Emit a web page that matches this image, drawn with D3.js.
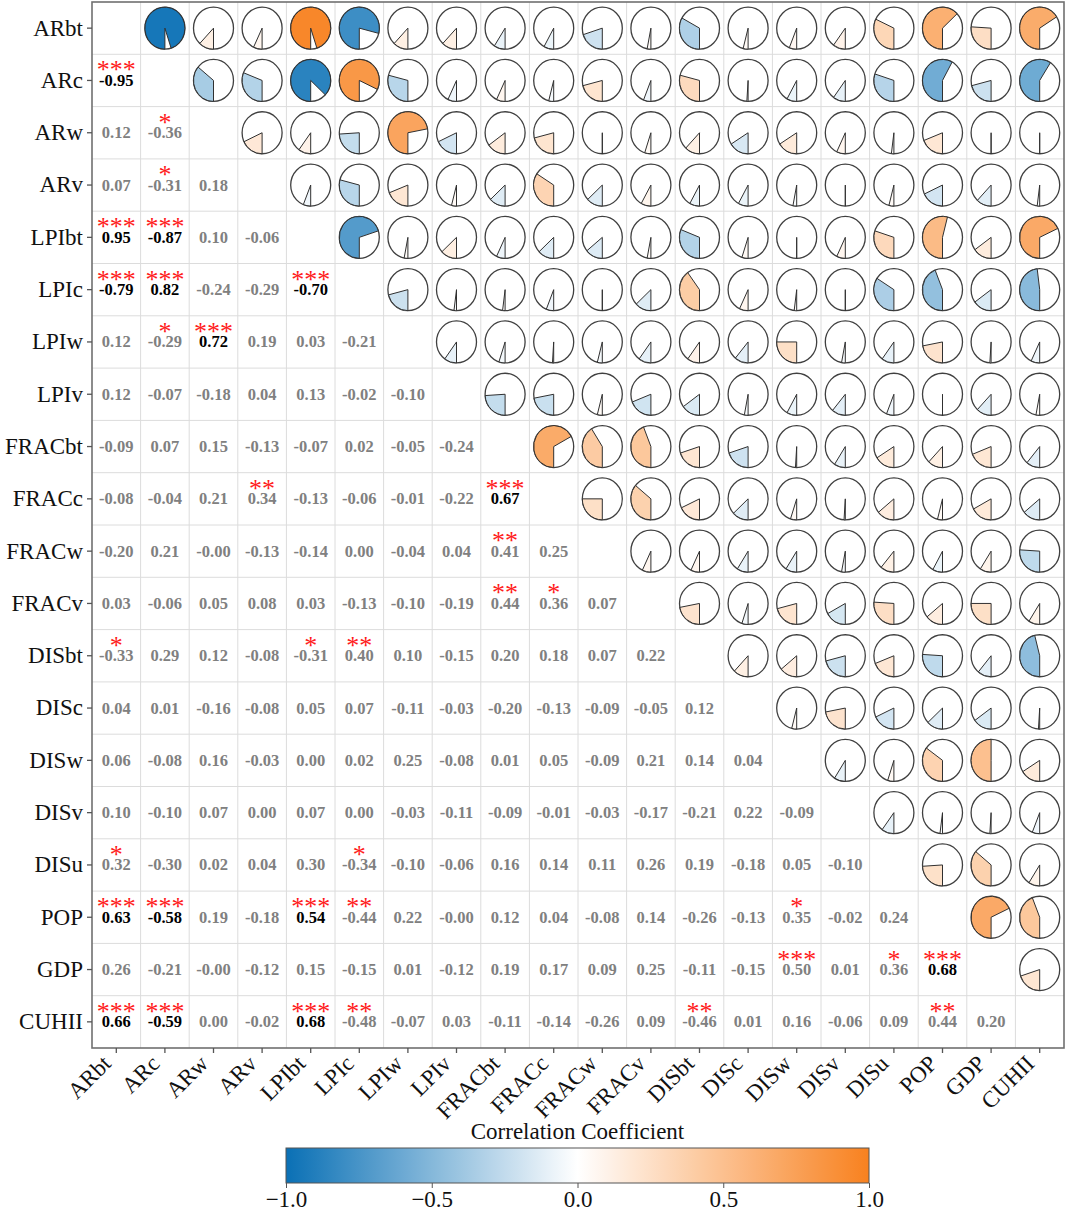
<!DOCTYPE html>
<html>
<head>
<meta charset="utf-8">
<script src="https://cdn.jsdelivr.net/npm/d3@7"></script>
<style>
  html, body { margin: 0; padding: 0; background: #fff; }
  svg { display: block; }
  svg text { font-family: "Liberation Serif", "Times New Roman", Tinos, "Nimbus Roman", serif; }
</style>
</head>
<body>
<div id="chartContainer"></div>
<script>
const labels = ["ARbt", "ARc", "ARw", "ARv", "LPIbt", "LPIc", "LPIw", "LPIv", "FRACbt", "FRACc",
    "FRACw", "FRACv", "DISbt", "DISc", "DISw", "DISv", "DISu", "POP", "GDP", "CUHII"];

// lower triangle, row i holds r(i, 0..i-1)
const corrRows = [
    [],
    [-0.95],
    [0.12, -0.36],
    [0.07, -0.31, 0.18],
    [0.95, -0.87, 0.10, -0.06],
    [-0.79, 0.82, -0.24, -0.29, -0.70],
    [0.12, -0.29, 0.72, 0.19, 0.03, -0.21],
    [0.12, -0.07, -0.18, 0.04, 0.13, -0.02, -0.10],
    [-0.09, 0.07, 0.15, -0.13, -0.07, 0.02, -0.05, -0.24],
    [-0.08, -0.04, 0.21, 0.34, -0.13, -0.06, -0.01, -0.22, 0.67],
    [-0.20, 0.21, -0, -0.13, -0.14, 0.00, -0.04, 0.04, 0.41, 0.25],
    [0.03, -0.06, 0.05, 0.08, 0.03, -0.13, -0.10, -0.19, 0.44, 0.36, 0.07],
    [-0.33, 0.29, 0.12, -0.08, -0.31, 0.40, 0.10, -0.15, 0.20, 0.18, 0.07, 0.22],
    [0.04, 0.01, -0.16, -0.08, 0.05, 0.07, -0.11, -0.03, -0.20, -0.13, -0.09, -0.05, 0.12],
    [0.06, -0.08, 0.16, -0.03, 0.00, 0.02, 0.25, -0.08, 0.01, 0.05, -0.09, 0.21, 0.14, 0.04],
    [0.10, -0.10, 0.07, 0.00, 0.07, 0.00, -0.03, -0.11, -0.09, -0.01, -0.03, -0.17, -0.21, 0.22, -0.09],
    [0.32, -0.30, 0.02, 0.04, 0.30, -0.34, -0.10, -0.06, 0.16, 0.14, 0.11, 0.26, 0.19, -0.18, 0.05, -0.10],
    [0.63, -0.58, 0.19, -0.18, 0.54, -0.44, 0.22, -0, 0.12, 0.04, -0.08, 0.14, -0.26, -0.13, 0.35, -0.02, 0.24],
    [0.26, -0.21, -0, -0.12, 0.15, -0.15, 0.01, -0.12, 0.19, 0.17, 0.09, 0.25, -0.11, -0.15, 0.50, 0.01, 0.36, 0.68],
    [0.66, -0.59, 0.00, -0.02, 0.68, -0.48, -0.07, 0.03, -0.11, -0.14, -0.26, 0.09, -0.46, 0.01, 0.16, -0.06, 0.09, 0.44, 0.20]
];

// number of significance stars, same layout as corrRows
const sigRows = [
    [],
    [3],
    [0, 1],
    [0, 1, 0],
    [3, 3, 0, 0],
    [3, 3, 0, 0, 3],
    [0, 1, 3, 0, 0, 0],
    [0, 0, 0, 0, 0, 0, 0],
    [0, 0, 0, 0, 0, 0, 0, 0],
    [0, 0, 0, 2, 0, 0, 0, 0, 3],
    [0, 0, 0, 0, 0, 0, 0, 0, 2, 0],
    [0, 0, 0, 0, 0, 0, 0, 0, 2, 1, 0],
    [1, 0, 0, 0, 1, 2, 0, 0, 0, 0, 0, 0],
    [0, 0, 0, 0, 0, 0, 0, 0, 0, 0, 0, 0, 0],
    [0, 0, 0, 0, 0, 0, 0, 0, 0, 0, 0, 0, 0, 0],
    [0, 0, 0, 0, 0, 0, 0, 0, 0, 0, 0, 0, 0, 0, 0],
    [1, 0, 0, 0, 0, 1, 0, 0, 0, 0, 0, 0, 0, 0, 0, 0],
    [3, 3, 0, 0, 3, 2, 0, 0, 0, 0, 0, 0, 0, 0, 1, 0, 0],
    [0, 0, 0, 0, 0, 0, 0, 0, 0, 0, 0, 0, 0, 0, 3, 0, 1, 3],
    [3, 3, 0, 0, 3, 2, 0, 0, 0, 0, 0, 0, 2, 0, 0, 0, 0, 2, 0]
];

const colorTicks = [-1.0, -0.5, 0.0, 0.5, 1.0];
const colorStops = ["#0a70b5", "#ffffff", "#f8811f"];

function makeChart() {
    const width = 1065;
    const height = 1231;
    const plot = { left: 92, right: 1064, top: 2, bottom: 1048 };
    const serif = '"Liberation Serif", "Times New Roman", Tinos, "Nimbus Roman", serif';

    const svg = d3.select('#chartContainer')
        .append('svg')
        .attr('width', width)
        .attr('height', height)
        .style('font-family', serif);

    const scX = d3.scaleBand().domain(labels).range([plot.left, plot.right]);
    const scY = d3.scaleBand().domain(labels).range([plot.top, plot.bottom]);
    const color = d3.scaleLinear().domain([-1, 0, 1]).range(colorStops);

    // cells: lower from corrRows, upper is the mirror
    const cells = [];
    labels.forEach((rowName, i) => {
        labels.forEach((colName, j) => {
            if (i === j) return;
            const lower = i > j;
            const r = lower ? corrRows[i][j] : corrRows[j][i];
            const sig = lower ? sigRows[i][j] : sigRows[j][i];
            cells.push({ row: rowName, col: colName, r: r, sig: sig, lower: lower });
        });
    });

    // light grid
    const grid = svg.append('g').attr('stroke', '#dcdcdc').attr('stroke-width', 1);
    d3.range(1, labels.length).forEach(k => {
        const gx = plot.left + k * scX.bandwidth();
        const gy = plot.top + k * scY.bandwidth();
        grid.append('line').attr('x1', gx).attr('x2', gx).attr('y1', plot.top).attr('y2', plot.bottom);
        grid.append('line').attr('x1', plot.left).attr('x2', plot.right).attr('y1', gy).attr('y2', gy);
    });

    const fmt = v => ((v < 0 || Object.is(v, -0)) ? '-' : '') + Math.abs(v).toFixed(2);

    // lower triangle: numbers and stars
    const lowerG = svg.append('g')
        .selectAll('g')
        .data(cells.filter(d => d.lower))
        .enter()
        .append('g')
        .attr('transform', d => `translate(${scX(d.col) + scX.bandwidth() / 2}, ${scY(d.row) + scY.bandwidth() / 2})`);

    lowerG.append('text')
        .attr('text-anchor', 'middle')
        .attr('y', 5.5)
        .style('font-size', '16.5px')
        .style('font-weight', 'bold')
        .attr('fill', d => Math.abs(d.r) > 0.5 ? '#000' : '#808080')
        .text(d => fmt(d.r));

    lowerG.filter(d => d.sig > 0)
        .append('text')
        .attr('text-anchor', 'middle')
        .attr('y', -2)
        .style('font-size', '26px')
        .attr('fill', '#ff1a1a')
        .text(d => '*'.repeat(d.sig));

    // upper triangle: pies from 6 o'clock, clockwise
    const rx = 20, ry = 21;
    const arc = d3.arc()
        .innerRadius(0)
        .outerRadius(rx)
        .startAngle(Math.PI)
        .endAngle(d => Math.PI + Math.abs(d.r) * 2 * Math.PI);

    const upperG = svg.append('g')
        .selectAll('g')
        .data(cells.filter(d => !d.lower))
        .enter()
        .append('g')
        .attr('transform', d => `translate(${scX(d.col) + scX.bandwidth() / 2}, ${scY(d.row) + scY.bandwidth() / 2}) scale(1, ${ry / rx})`);

    upperG.append('circle')
        .attr('r', rx)
        .attr('fill', '#fff')
        .attr('stroke', '#404040')
        .attr('stroke-width', 1.3)
        .attr('vector-effect', 'non-scaling-stroke');

    upperG.append('path')
        .attr('d', arc)
        .attr('fill', d => color(d.r))
        .attr('stroke', '#303030')
        .attr('stroke-width', 1)
        .attr('vector-effect', 'non-scaling-stroke');

    // frame
    svg.append('rect')
        .attr('x', plot.left).attr('y', plot.top)
        .attr('width', plot.right - plot.left).attr('height', plot.bottom - plot.top)
        .attr('fill', 'none')
        .attr('stroke', '#707070')
        .attr('stroke-width', 1.6);

    // Y Axis
    const yAxis = d3.axisLeft(scY).tickSize(5).tickSizeOuter(0).tickPadding(4);
    const gy = svg.append('g')
        .attr('transform', `translate(${plot.left}, 0)`)
        .call(yAxis)
        .attr('font-family', serif);
    gy.select('.domain').remove();
    gy.selectAll('line').attr('stroke', '#555').attr('stroke-width', 1.3);
    gy.selectAll('text')
        .style('font-size', '23px')
        .attr('fill', '#111');

    // X Axis, labels end just under the tick
    const xAxis = d3.axisBottom(scX).tickSize(5).tickSizeOuter(0).tickPadding(0);
    const gx = svg.append('g')
        .attr('transform', `translate(0, ${plot.bottom})`)
        .call(xAxis)
        .attr('font-family', serif);
    gx.select('.domain').remove();
    gx.selectAll('line').attr('stroke', '#555').attr('stroke-width', 1.3);
    gx.selectAll('text')
        .style('font-size', '23px')
        .attr('fill', '#111')
        .attr('text-anchor', 'end')
        .attr('y', 0)
        .attr('dy', 0)
        .attr('transform', 'translate(-4, 17) rotate(-45)');

    // colorbar
    const bar = { x0: 286, x1: 869, y: 1148, h: 35 };
    const scC = d3.scaleLinear().domain([-1, 1]).range([bar.x0, bar.x1]);

    const grad = svg.append('defs')
        .append('linearGradient')
        .attr('id', 'cbar')
        .attr('x1', '0%').attr('x2', '100%').attr('y1', '0%').attr('y2', '0%');
    d3.range(0, 1.0001, 0.05).forEach(t => {
        grad.append('stop')
            .attr('offset', `${t * 100}%`)
            .attr('stop-color', color(-1 + 2 * t));
    });

    svg.append('rect')
        .attr('x', bar.x0).attr('y', bar.y)
        .attr('width', bar.x1 - bar.x0).attr('height', bar.h)
        .attr('fill', 'url(#cbar)')
        .attr('stroke', '#555')
        .attr('stroke-width', 1);

    const cAxis = d3.axisBottom(scC)
        .tickValues(colorTicks)
        .tickFormat(d3.format('.1f'))
        .tickSize(5)
        .tickSizeOuter(0)
        .tickPadding(3);
    const gc = svg.append('g')
        .attr('transform', `translate(0, ${bar.y + bar.h})`)
        .call(cAxis)
        .attr('font-family', serif);
    gc.select('.domain').remove();
    gc.selectAll('line').attr('stroke', '#555');
    gc.selectAll('text')
        .style('font-size', '23px')
        .attr('fill', '#111');

    svg.append('text')
        .attr('x', (bar.x0 + bar.x1) / 2)
        .attr('y', bar.y - 9)
        .attr('text-anchor', 'middle')
        .style('font-size', '23px')
        .attr('fill', '#111')
        .text('Correlation Coefficient');
}

makeChart();
</script>
</body>
</html>
